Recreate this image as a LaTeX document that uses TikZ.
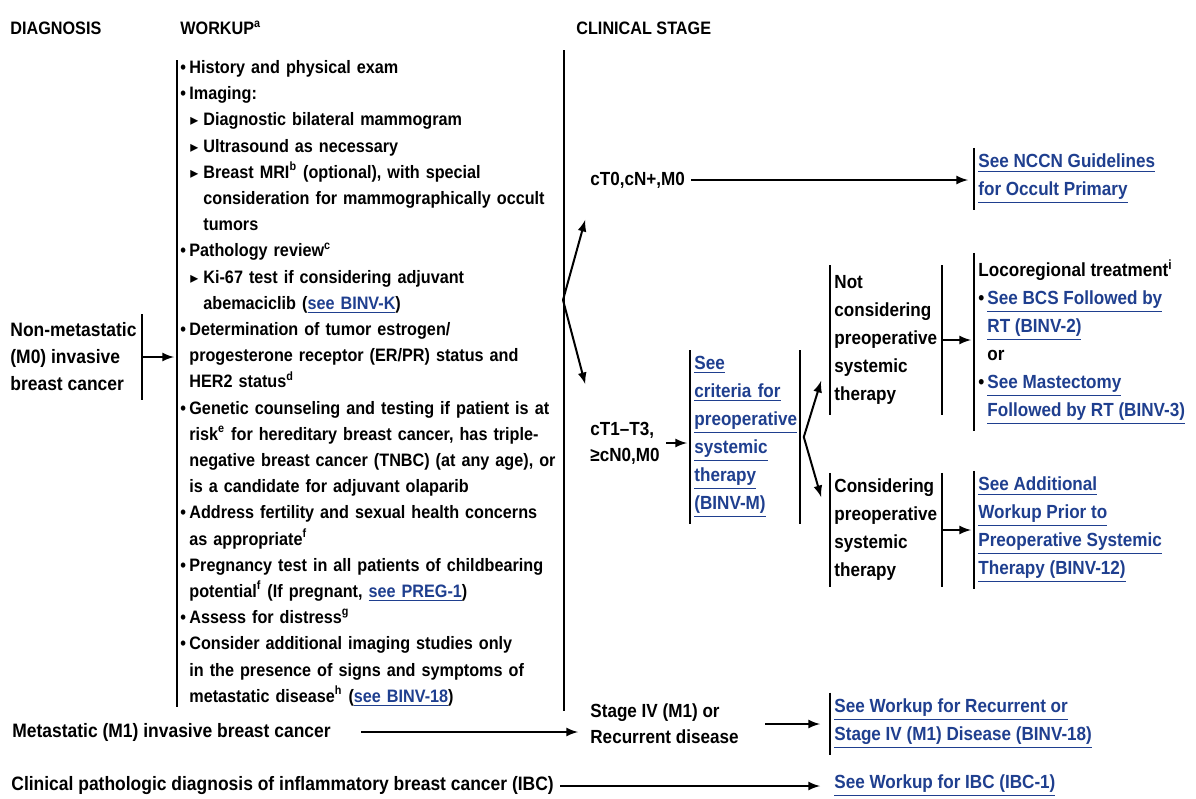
\documentclass[tikz,border=0pt]{standalone}
\usepackage{fontspec}
\setmainfont{Liberation Sans}[FakeStretch=0.9]
\newfontfamily\symfont{DejaVu Sans}
\usepackage{xcolor}
\usetikzlibrary{arrows}
\definecolor{linkblue}{HTML}{1F3F8F}
\newcommand{\lnk}[1]{{\color{linkblue}\underline{#1}}}
\newcommand{\bu}{\makebox[4.5pt][l]{•}}
\newcommand{\cn}{\hspace*{4.5pt}}
\newcommand{\sbu}{\hspace*{5pt}\makebox[6.5pt][l]{\symfont\footnotesize ▸}}
\newcommand{\scn}{\hspace*{11.5pt}}
\tikzset{
    txt/.style={inner sep=0pt, align=left, font=\fontsize{9}{13.1}\selectfont\bfseries},
    big/.style={txt, font=\fontsize{9.7}{13.5}\selectfont\bfseries},
    stage/.style={txt, font=\fontsize{9.5}{13.1}\selectfont\bfseries},
    blk/.style={inner xsep=2pt, inner ysep=3pt, align=left, font=\fontsize{9.5}{14}\selectfont\bfseries},
    bar/.style={line width=1pt},
    arr/.style={line width=1pt, -latex, shorten >=1.5pt},
}
\begin{document}
\begin{tikzpicture}[x=0.5pt,y=-0.5pt]
    \fill[white] (0,0) rectangle (1196,799);
    \useasboundingbox (0,0) rectangle (1196,799);

    % column heads
    \node[txt, anchor=west] (hdx) at (10,28) {DIAGNOSIS};
    \node[txt, anchor=west] (hwk) at (180,28) {WORKUP\textsuperscript{a}};
    \node[txt, anchor=west] (hcs) at (576,28) {CLINICAL STAGE};

    % diagnosis and workup
    \node[big, anchor=west, inner xsep=2.5pt, inner ysep=4pt] (nm) at (5,357) {Non-metastatic\\(M0) invasive\\breast cancer};
    \node[txt, anchor=north west, inner xsep=1.5pt, text width=190pt] (wk) at (177,60) {%
        \bu History and physical exam\\
        \bu Imaging:\\
        \sbu Diagnostic bilateral mammogram\\
        \sbu Ultrasound as necessary\\
        \sbu Breast MRI\textsuperscript{b} (optional), with special\\
        \scn consideration for mammographically occult\\
        \scn tumors\\
        \bu Pathology review\textsuperscript{c}\\
        \sbu Ki-67 test if considering adjuvant\\
        \scn abemaciclib (\lnk{see BINV-K})\\
        \bu Determination of tumor estrogen/\\
        \cn progesterone receptor (ER/PR) status and\\
        \cn HER2 status\textsuperscript{d}\\
        \bu Genetic counseling and testing if patient is at\\
        \cn risk\textsuperscript{e} for hereditary breast cancer, has triple-\\
        \cn negative breast cancer (TNBC) (at any age), or\\
        \cn is a candidate for adjuvant olaparib\\
        \bu Address fertility and sexual health concerns\\
        \cn as appropriate\textsuperscript{f}\\
        \bu Pregnancy test in all patients of childbearing\\
        \cn potential\textsuperscript{f} (If pregnant, \lnk{see PREG-1})\\
        \bu Assess for distress\textsuperscript{g}\\
        \bu Consider additional imaging studies only\\
        \cn in the presence of signs and symptoms of\\
        \cn metastatic disease\textsuperscript{h} (\lnk{see BINV-18})};
    \draw[bar] (nm.north east) -- (nm.south east);
    \draw[arr] (nm.east) -- (nm.east -| wk.west);
    \draw[bar] (wk.north west) -- (wk.south west);
    \draw[bar] ([yshift=5pt]wk.north east) -- ([yshift=-2pt]wk.south east);

    % clinical stage
    \coordinate (wkb) at (563,300);
    \coordinate (up1) at (586,217);
    \coordinate (dn1) at (586,387);
    \draw[arr] (wkb) -- (up1);
    \draw[arr] (wkb) -- (dn1);

    \node[stage, anchor=west] (ct0) at (590,180) {cT0,cN+,M0};
    \node[blk, anchor=west] (nccn) at (974,179) {\lnk{See NCCN Guidelines}\\\lnk{for Occult Primary}};
    \draw[bar] (nccn.north west) -- (nccn.south west);
    \draw[arr, shorten <=3pt, shorten >=3pt] (ct0.east) -- (ct0.east -| nccn.west);

    \node[stage, anchor=west] (ct1) at (590,443) {cT1–T3,\\≥cN0,M0};
    \node[blk, anchor=west, text width=50.5pt] (crit) at (690,437) {\lnk{See}\\\lnk{criteria for}\\\lnk{preoperative}\\\lnk{systemic}\\\lnk{therapy}\\\lnk{(BINV-M)}};
    \draw[bar] (crit.north west) -- (crit.south west);
    \draw[bar] (crit.north east) -- (crit.south east);
    \draw[arr, shorten <=3pt] (ct1.east) -- (ct1.east -| crit.west);

    \coordinate (up2) at (822,378);
    \coordinate (dn2) at (822,500);
    \draw[arr] ([xshift=2pt]crit.east) -- (up2);
    \draw[arr] ([xshift=2pt]crit.east) -- (dn2);

    \node[blk, anchor=west, text width=51.5pt, inner ysep=5pt] (ncon) at (830,340) {Not\\considering\\preoperative\\systemic\\therapy};
    \draw[bar] (ncon.north west) -- (ncon.south west);
    \draw[bar] (ncon.north east) -- (ncon.south east);
    \node[blk, anchor=west] (loco) at (974,342) {Locoregional treatment\textsuperscript{i}\\
        \bu\lnk{See BCS Followed by}\\\cn\lnk{RT (BINV-2)}\\\cn or\\
        \bu\lnk{See Mastectomy}\\\cn\lnk{Followed by RT (BINV-3)}};
    \draw[bar] (loco.north west) -- (loco.south west);
    \draw[arr] (ncon.east) -- (ncon.east -| loco.west);

    \node[blk, anchor=west, text width=51.5pt] (con) at (830,530) {Considering\\preoperative\\systemic\\therapy};
    \draw[bar] (con.north west) -- (con.south west);
    \draw[bar] (con.north east) -- (con.south east);
    \node[blk, anchor=west] (addw) at (974,530) {\lnk{See Additional}\\\lnk{Workup Prior to}\\\lnk{Preoperative Systemic}\\\lnk{Therapy (BINV-12)}};
    \draw[bar] (addw.north west) -- (addw.south west);
    \draw[arr] (con.east) -- (con.east -| addw.west);

    % metastatic and IBC rows
    \node[big, anchor=west] (met) at (12,732) {Metastatic (M1) invasive breast cancer};
    \node[stage, anchor=west] (stg) at (590,724) {Stage IV (M1) or\\Recurrent disease};
    \draw[arr, shorten <=15pt, shorten >=6pt] (met.east) -- (met.east -| stg.west);
    \node[blk, anchor=west] (rec) at (830,724) {\lnk{See Workup for Recurrent or}\\\lnk{Stage IV (M1) Disease (BINV-18)}};
    \draw[bar] (rec.north west) -- (rec.south west);
    \draw[arr, shorten <=13pt, shorten >=5pt] (stg.east) -- (stg.east -| rec.west);

    \node[big, anchor=west] (ibc) at (11,786) {Clinical pathologic diagnosis of inflammatory breast cancer (IBC)};
    \node[stage, anchor=west] (ibcw) at (834,786) {\lnk{See Workup for IBC (IBC-1)}};
    \draw[arr, shorten <=3pt, shorten >=7pt] (ibc.east) -- (ibcw.west);
\end{tikzpicture}
\end{document}
